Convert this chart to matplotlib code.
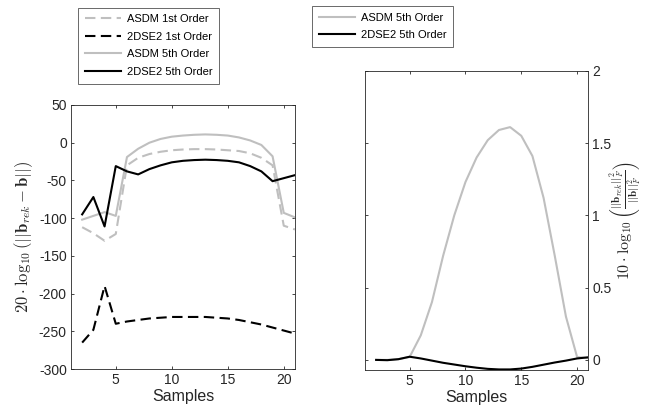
import matplotlib
matplotlib.use("Agg")
import matplotlib.pyplot as plt
from matplotlib.lines import Line2D

plt.rcParams['font.family'] = ['Liberation Sans', 'DejaVu Sans']
plt.rcParams['mathtext.fontset'] = 'cm'
plt.rcParams['axes.unicode_minus'] = False

samples = list(range(2, 22))

# Left panel: 20*log10(||b_rek - b||)
asdm_1st = [-112, -120, -130, -121, -30, -20, -15, -12, -10, -9, -8.5, -8.5, -9, -10, -11, -14, -20, -30, -110, -115]
dse2_1st = [-265, -248, -190, -240, -237, -235, -233, -232, -231, -231, -231, -231, -232, -233, -235, -238, -241, -245, -249, -253]
asdm_5th = [-102, -97, -92, -97, -19, -8, 0, 5, 8, 9.5, 10.5, 11, 10.5, 9.5, 7, 3, -3, -18, -93, -99]
dse2_5th = [-95, -72, -111, -31, -38, -42, -35, -30, -26, -24, -23, -22.5, -23, -24, -26, -31, -38, -51, -47, -43]

# Right panel: 10*log10(||b_rek||_F^2 / ||b||_F^2)
asdm_5th_r = [0.0, 0.0, 0.005, 0.02, 0.17, 0.40, 0.72, 1.00, 1.23, 1.40, 1.52, 1.59, 1.61, 1.55, 1.41, 1.12, 0.72, 0.30, 0.02, 0.012]
dse2_5th_r = [0.0, -0.002, 0.005, 0.022, 0.01, -0.005, -0.02, -0.032, -0.044, -0.054, -0.062, -0.066, -0.066, -0.06, -0.048, -0.033, -0.018, -0.005, 0.01, 0.018]

left_yticks = [-300, -250, -200, -150, -100, -50, 0, 50]
right_yticks = [0, 0.5, 1, 1.5, 2]
right_yticklabels = ['0', '0.5', '1', '1.5', '2']
xticks = [5, 10, 15, 20]

GRAY = '#bfbfbf'
AX = '#262626'
LW = 1.5
DASH = (5, 2.6)
TICK_FS = 10
LABEL_FS = 11.5
LEG_FS = 8

fig = plt.figure(figsize=(6.47, 4.20), dpi=100)
ax1 = fig.add_axes([0.1097, 0.1214, 0.3462, 0.6286])
ax2 = fig.add_axes([0.5641, 0.1190, 0.3451, 0.7126])

ax1.plot(samples, asdm_1st, color=GRAY, lw=LW, dashes=DASH)
ax1.plot(samples, dse2_1st, color='black', lw=LW, dashes=DASH)
ax1.plot(samples, asdm_5th, color=GRAY, lw=LW)
ax1.plot(samples, dse2_5th, color='black', lw=LW)
ax1.set_xlim(1, 21)
ax1.set_ylim(-300, 50)
ax1.set_yticks(left_yticks)
ax1.set_xticks(xticks)
ax1.set_xlabel('Samples', fontsize=LABEL_FS, color=AX, labelpad=1)
ax1.set_ylabel(r'$20\cdot\log_{10}(||\mathbf{b}_{rek}-\mathbf{b}||)$', fontsize=12, color=AX, labelpad=3)

ax2.plot(samples, asdm_5th_r, color=GRAY, lw=LW)
ax2.plot(samples, dse2_5th_r, color='black', lw=LW)
ax2.set_xlim(1, 21)
ax2.set_ylim(-0.07, 2)
ax2.set_yticks(right_yticks)
ax2.set_yticklabels(right_yticklabels)
ax2.set_xticks(xticks)
ax2.yaxis.tick_right()
ax2.set_xlabel('Samples', fontsize=LABEL_FS, color=AX, labelpad=1)

# right y-label placed explicitly so that it stays inside the figure
fig.text(644 / 647, 0.119 + 0.7126 / 2,
         r'$10\cdot\log_{10}\left(\frac{||\mathbf{b}_{rek}||_F^2}{||\mathbf{b}||_F^2}\right)$',
         fontsize=11.5, color=AX, rotation=90, ha='right', va='center')

for ax in (ax1, ax2):
    for s in ax.spines.values():
        s.set_color(AX)
        s.set_linewidth(0.6)
    ax.tick_params(direction='in', length=2.5, width=0.6, colors=AX, labelsize=TICK_FS,
                   top=True, bottom=True, left=True, right=True, pad=3)

h1 = [Line2D([], [], color=GRAY, lw=LW, dashes=DASH),
      Line2D([], [], color='black', lw=LW, dashes=DASH),
      Line2D([], [], color=GRAY, lw=LW),
      Line2D([], [], color='black', lw=LW)]
l1 = ['ASDM 1st Order', '2DSE2 1st Order', 'ASDM 5th Order', '2DSE2 5th Order']
leg1 = fig.legend(h1, l1, loc='center', bbox_to_anchor=(148.5 / 647, 1 - 45.5 / 420),
                  fontsize=LEG_FS, frameon=True, fancybox=False, handlelength=3.3,
                  handletextpad=0.5, labelspacing=0.68, borderpad=0.6, borderaxespad=0)
leg1.get_frame().set_edgecolor(AX)
leg1.get_frame().set_linewidth(0.6)

h2 = [Line2D([], [], color=GRAY, lw=LW), Line2D([], [], color='black', lw=LW)]
l2 = ['ASDM 5th Order', '2DSE2 5th Order']
leg2 = fig.legend(h2, l2, loc='center', bbox_to_anchor=(382.5 / 647, 1 - 26.5 / 420),
                  fontsize=LEG_FS, frameon=True, fancybox=False, handlelength=3.3,
                  handletextpad=0.5, labelspacing=0.68, borderpad=0.6, borderaxespad=0)
leg2.get_frame().set_edgecolor(AX)
leg2.get_frame().set_linewidth(0.6)

fig.savefig('out.png', dpi=100)
